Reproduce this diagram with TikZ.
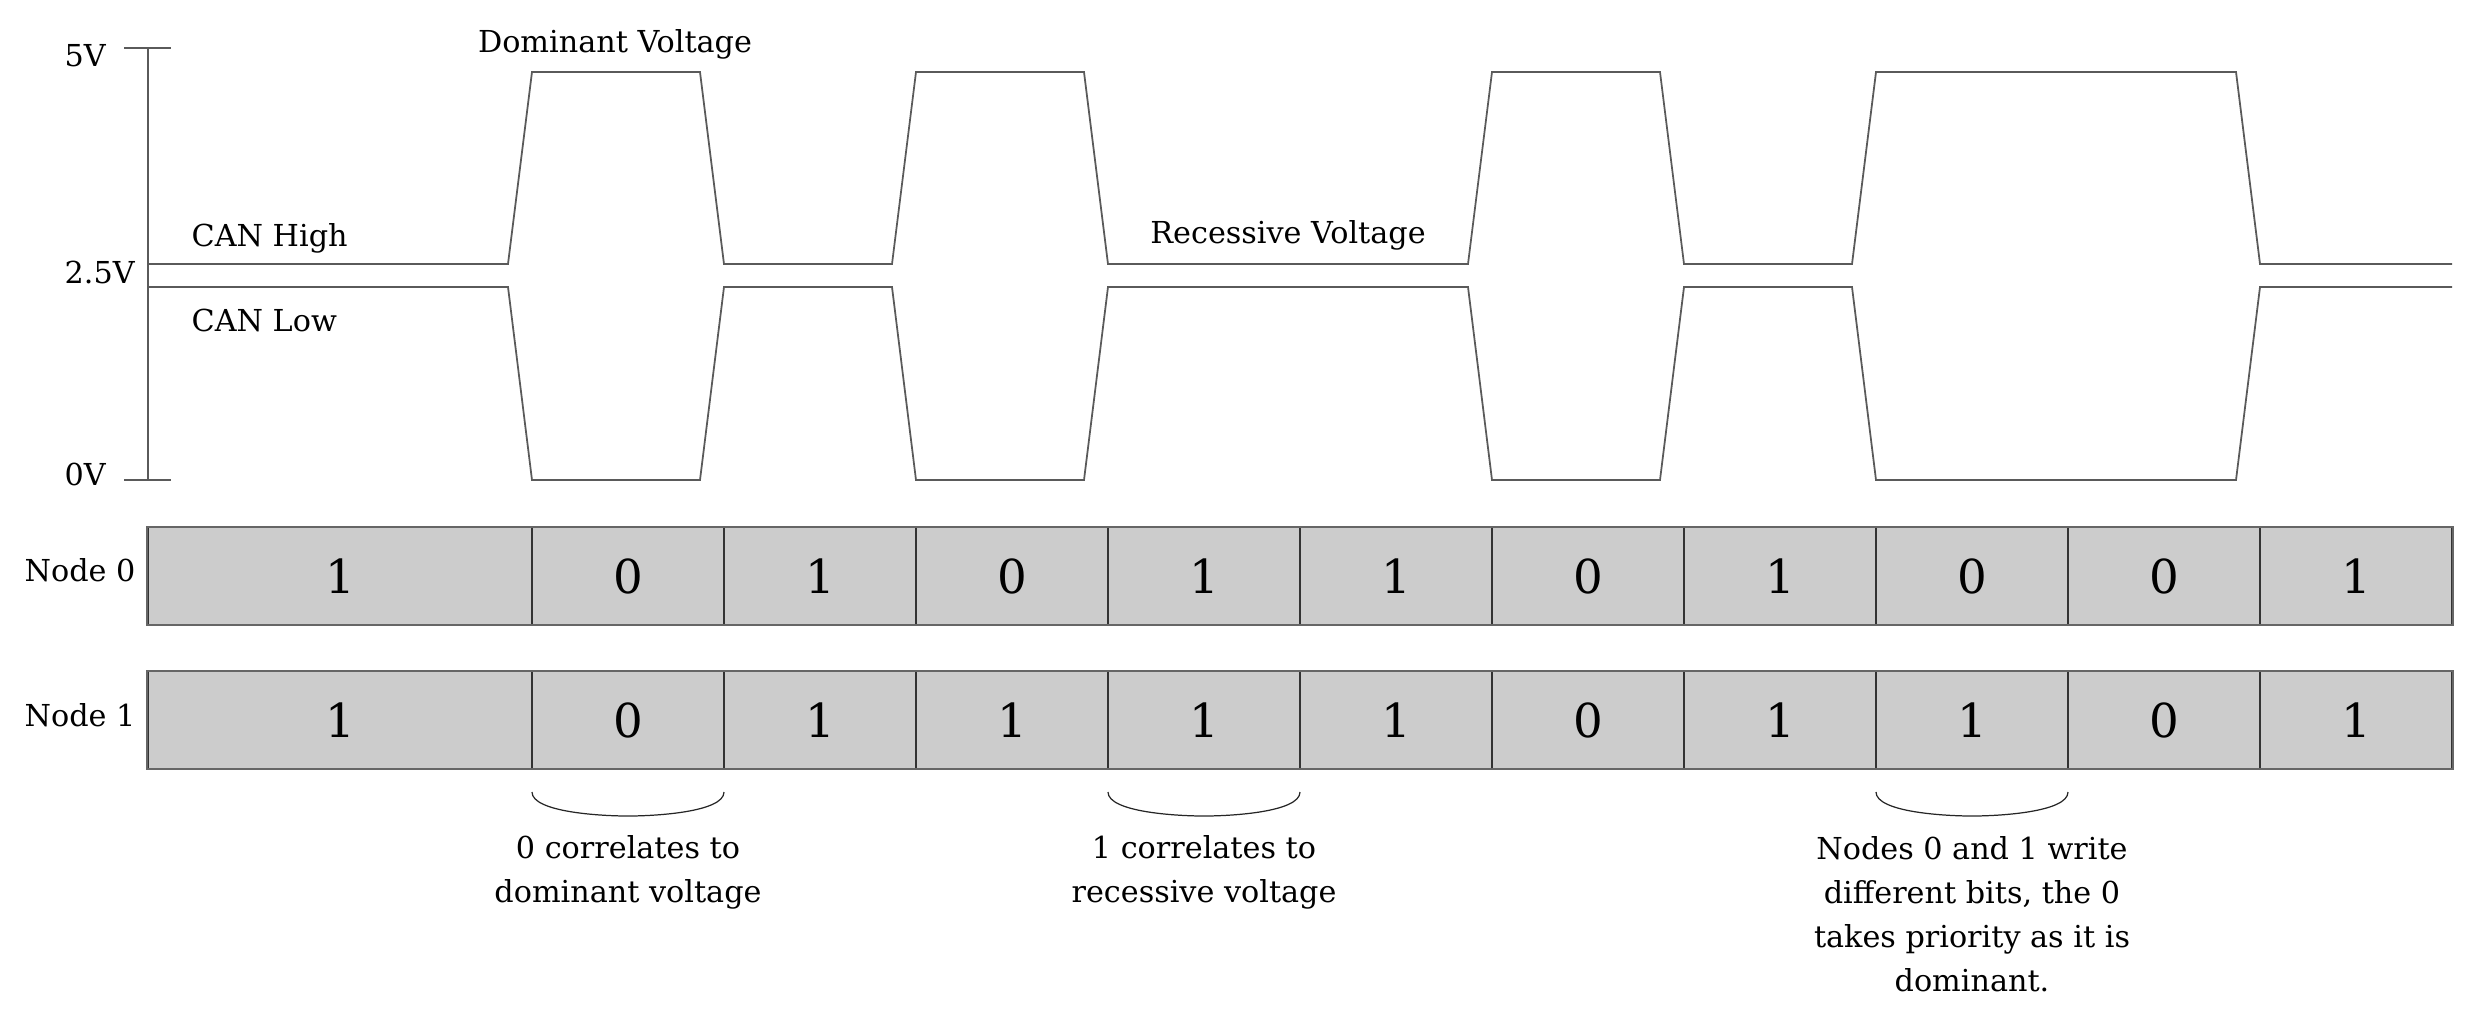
\documentclass[tikz,border=0pt]{standalone}
\usepackage{fontspec}
\setmainfont{DejaVu Serif}
\definecolor{cellfill}{HTML}{CCCCCC}
\definecolor{wavegray}{HTML}{5A5A5A}
\definecolor{bordergray}{HTML}{666666}
\tikzset{
  wave/.style={draw=wavegray, line width=0.5pt, line join=miter},
  axisline/.style={draw=wavegray, line width=0.45pt},
  lbl/.style={inner sep=0pt, font=\fontsize{8.6}{12.5}\selectfont},
  note/.style={inner sep=0pt, align=center, anchor=north, font=\fontsize{8.6}{12.5}\selectfont},
  bitcell/.style={draw=black!80, line width=0.35pt, fill=cellfill, minimum height=0.963cm, inner sep=0pt, font=\fontsize{13.3}{16}\selectfont},
  brace/.style={draw=black!85, line width=0.35pt}
}
\begin{document}
\begin{tikzpicture}[x=0.01cm,y=-0.01cm]
\useasboundingbox (0,0) rectangle (2478,1014);
% axis
\draw[axisline] (148,48) -- (148,480);
\draw[axisline] (124,48) -- (171,48);
\draw[axisline] (124,480) -- (171,480);
\node[lbl, anchor=base west] (v5) at (64,66.7) {5V};
\node[lbl, anchor=base west] (v25) at (64,283.3) {2.5V};
\node[lbl, anchor=base west] (v0) at (64,485) {0V};
% waveforms
\draw[wave] (148,264) -- (508,264) -- (532,72) -- (700,72) -- (724,264) -- (892,264) -- (916,72) -- (1084,72) -- (1108,264) -- (1468,264) -- (1492,72) -- (1660,72) -- (1684,264) -- (1852,264) -- (1876,72) -- (2236,72) -- (2260,264) -- (2452,264);
\draw[wave] (148,287) -- (508,287) -- (532,480) -- (700,480) -- (724,287) -- (892,287) -- (916,480) -- (1084,480) -- (1108,287) -- (1468,287) -- (1492,480) -- (1660,480) -- (1684,287) -- (1852,287) -- (1876,480) -- (2236,480) -- (2260,287) -- (2452,287);
\node[lbl, anchor=base west] (canh) at (191,246.7) {CAN High};
\node[lbl, anchor=base west] (canl) at (191,331.7) {CAN Low};
\node[lbl, anchor=base] (dom) at (615,52.7) {Dominant Voltage};
\node[lbl, anchor=base] (rec) at (1288,243) {Recessive Voltage};
% node rows
\node[lbl, anchor=base west] (n0) at (24,581) {Node 0};
\node[lbl, anchor=base west] (n1) at (24,726) {Node 1};
% row 0
\node[bitcell, minimum width=3.84cm] (a0) at (340,576) {1};
\node[bitcell, minimum width=1.92cm] (a1) at (628,576) {0};
\node[bitcell, minimum width=1.92cm] (a2) at (820,576) {1};
\node[bitcell, minimum width=1.92cm] (a3) at (1012,576) {0};
\node[bitcell, minimum width=1.92cm] (a4) at (1204,576) {1};
\node[bitcell, minimum width=1.92cm] (a5) at (1396,576) {1};
\node[bitcell, minimum width=1.92cm] (a6) at (1588,576) {0};
\node[bitcell, minimum width=1.92cm] (a7) at (1780,576) {1};
\node[bitcell, minimum width=1.92cm] (a8) at (1972,576) {0};
\node[bitcell, minimum width=1.92cm] (a9) at (2164,576) {0};
\node[bitcell, minimum width=1.92cm] (a10) at (2356,576) {1};
% row 1
\node[bitcell, minimum width=3.84cm] (b0) at (340,720) {1};
\node[bitcell, minimum width=1.92cm] (b1) at (628,720) {0};
\node[bitcell, minimum width=1.92cm] (b2) at (820,720) {1};
\node[bitcell, minimum width=1.92cm] (b3) at (1012,720) {1};
\node[bitcell, minimum width=1.92cm] (b4) at (1204,720) {1};
\node[bitcell, minimum width=1.92cm] (b5) at (1396,720) {1};
\node[bitcell, minimum width=1.92cm] (b6) at (1588,720) {0};
\node[bitcell, minimum width=1.92cm] (b7) at (1780,720) {1};
\node[bitcell, minimum width=1.92cm] (b8) at (1972,720) {1};
\node[bitcell, minimum width=1.92cm] (b9) at (2164,720) {0};
\node[bitcell, minimum width=1.92cm] (b10) at (2356,720) {1};
% outer borders
\draw[draw=bordergray, line width=0.55pt] (a0.north west) rectangle (a10.south east);
\draw[draw=bordergray, line width=0.55pt] (b0.north west) rectangle (b10.south east);
% braces
\draw[brace] (532,792) .. controls (532,812) and (600,816) .. (628,816) .. controls (656,816) and (724,812) .. (724,792);
\draw[brace] (1108,792) .. controls (1108,812) and (1176,816) .. (1204,816) .. controls (1232,816) and (1300,812) .. (1300,792);
\draw[brace] (1876,792) .. controls (1876,812) and (1944,816) .. (1972,816) .. controls (2000,816) and (2068,812) .. (2068,792);
% notes
\node[note] (t1) at (628,835) {0 correlates to\\dominant voltage};
\node[note] (t2) at (1204,835) {1 correlates to\\recessive voltage};
\node[note] (t3) at (1972,836) {Nodes 0 and 1 write\\different bits, the 0\\takes priority as it is\\dominant.};
\end{tikzpicture}
\end{document}
